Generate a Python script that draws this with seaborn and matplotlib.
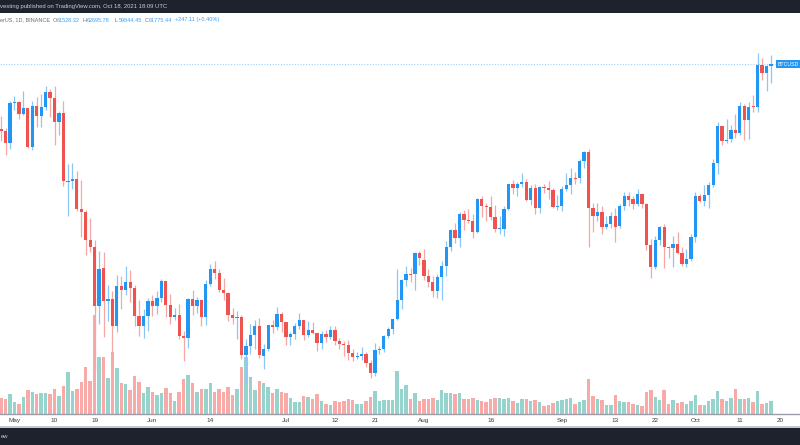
import numpy as np
import pandas as pd
import matplotlib
matplotlib.use("Agg")
import matplotlib.pyplot as plt
import seaborn as sns
from matplotlib.patches import Rectangle

# ---------------- data (BTCUSDT daily, Binance) ----------------
start_date = "2021-04-28"
opens = [55033, 54824, 53555, 57697, 57797, 56578, 57169, 53205, 57436, 56393,
         57315, 58866, 58240, 55816, 56670, 49537, 49671, 49845, 46716, 46427,
         43538, 42849, 36706, 40597, 37250, 37449, 34655, 38796, 38325, 39241,
         38529, 35661, 34606, 35642, 37254, 36694, 37568, 39246, 36829, 35517,
         35796, 33556, 33381, 37389, 36677, 37331, 35546, 39020, 40516, 40143,
         38349, 38092, 35820, 35483, 35601, 31614, 32509, 33675, 34663, 31576,
         32283, 34702, 34494, 35911, 35045, 33502, 33786, 34668, 35284, 33690,
         34221, 33863, 32875, 33815, 33502, 34259, 33086, 32729, 32650, 31874,
         31383, 31521, 31778, 30839, 29790, 32144, 32287, 33583, 34293, 35351,
         37338, 39406, 39995, 39980, 42235, 41461, 39850, 39147, 38207, 39723,
         40862, 42836, 44572, 43794, 46248, 45585, 45511, 44400, 47800, 47068,
         46973, 45902, 44696, 44705, 46760, 49339, 48905, 49321, 49546, 47706,
         48960, 46843, 49070, 48895, 48768, 46991, 47100, 48810, 49246, 49999,
         49918, 51756, 52666, 46868, 46048, 46395, 44842, 45173, 46026, 44950,
         47103, 48121, 47738, 47299, 48292, 47242, 43016, 40729, 43546, 44866,
         42810, 42671, 43160, 42147, 41025, 41524, 43821, 48142, 47632, 48200,
         49224, 51471, 55316, 53786, 53956, 54950, 54659, 57471, 56006, 57370,
         57347, 61672, 60876, 61528]
highs = [56428, 55195, 57963, 58458, 57911, 58973, 57200, 57911, 58360, 58650,
         59464, 59210, 59500, 56862, 57939, 51367, 51483, 50700, 49720, 46643,
         45800, 43546, 42451, 42250, 38829, 38270, 39920, 39791, 40841, 40411,
         38877, 37338, 36400, 37499, 37894, 38225, 39476, 39289, 37925, 36480,
         36900, 34068, 37534, 38400, 37680, 37463, 39380, 41064, 41330, 40527,
         39560, 38202, 36457, 36137, 35750, 33298, 34881, 35298, 35500, 32730,
         34749, 35297, 36600, 36100, 35057, 33977, 34945, 35967, 35284, 35118,
         35059, 33929, 34100, 34262, 34666, 34679, 33340, 33114, 33185, 32249,
         31955, 32435, 31899, 31063, 32858, 32591, 33650, 34500, 35398, 40550,
         39542, 40900, 40640, 42316, 42448, 42599, 40499, 39780, 39969, 41350,
         43392, 44700, 45310, 46454, 46700, 46743, 46218, 47886, 48144, 47372,
         48053, 47160, 46000, 47033, 49382, 49757, 49500, 50500, 49875, 49266,
         49355, 49149, 49309, 49632, 48888, 48246, 49156, 50450, 51000, 50558,
         51900, 52780, 52920, 47340, 47399, 47033, 45987, 46460, 46876, 47250,
         48500, 48557, 48150, 48843, 48372, 47347, 43639, 44000, 44978, 45200,
         42966, 43950, 44350, 42787, 42590, 44141, 48495, 48336, 49228, 49536,
         51886, 55750, 55333, 56100, 55489, 56561, 57839, 57680, 57804, 58532,
         62933, 62350, 61700, 62696]
lows = [53813, 52330, 53013, 57052, 56035, 56478, 53057, 52900, 55200, 55241,
        56975, 56282, 53400, 54370, 49150, 46000, 48800, 46555, 43825, 42001,
        42250, 30000, 34850, 33488, 35200, 31111, 34031, 36419, 37800, 37134,
        34684, 33632, 33379, 34153, 35666, 35920, 37170, 35555, 34800, 35258,
        33300, 31000, 32396, 35783, 35936, 34600, 34757, 38730, 39506, 38116,
        37365, 35129, 34803, 33336, 31251, 28805, 31684, 32286, 31275, 30151,
        32000, 33862, 34225, 34017, 32711, 32699, 33316, 34357, 33213, 33532,
        33777, 32077, 32261, 33004, 33307, 32658, 32202, 31550, 31133, 31020,
        31164, 31109, 30408, 29278, 29482, 31708, 31924, 33402, 33851, 35205,
        36383, 38772, 39200, 38313, 41000, 39422, 38690, 37642, 37508, 37332,
        39853, 42446, 43261, 42779, 44589, 45341, 43770, 44217, 45971, 45500,
        45660, 44376, 44203, 43927, 46622, 48273, 48085, 49030, 47600, 47136,
        46250, 46360, 48370, 47762, 46853, 46700, 46513, 48584, 48316, 49370,
        49450, 50969, 42843, 44412, 45513, 44132, 44722, 44742, 43370, 44750,
        46700, 47021, 46750, 47033, 46850, 42500, 39600, 40565, 43069, 40675,
        41646, 40750, 42098, 40888, 40753, 41410, 43283, 47430, 47088, 46891,
        49022, 50382, 53357, 53617, 53661, 54080, 54416, 53879, 54000, 56818,
        56850, 60150, 58963, 59844]
closes = [54824, 53555, 57694, 57800, 56578, 57169, 53200, 57436, 56393, 57314,
          58862, 58240, 55816, 56670, 49631, 49670, 49841, 46762, 46431, 43538,
          42849, 36690, 40526, 37252, 37449, 34655, 38796, 38324, 39241, 38529,
          35663, 34605, 35641, 37253, 36693, 37568, 39246, 36829, 35513, 35796,
          33552, 33380, 37388, 36675, 37331, 35546, 39020, 40516, 40144, 38349,
          38092, 35819, 35483, 35600, 31608, 32509, 33678, 34663, 31584, 32283,
          34700, 34494, 35911, 35045, 33504, 33786, 34669, 35287, 33690, 34220,
          33863, 32875, 33815, 33502, 34259, 33086, 32729, 32650, 31880, 31383,
          31520, 31778, 30839, 29790, 32144, 32288, 33582, 34292, 35350, 37337,
          39406, 39995, 39980, 42235, 41626, 39845, 39147, 38207, 39723, 40862,
          42836, 44572, 43794, 46253, 45584, 45511, 44399, 47800, 47068, 46973,
          45901, 44695, 44705, 46760, 49339, 48905, 49321, 49546, 47706, 48960,
          46843, 49069, 48895, 48767, 46991, 47100, 48811, 49246, 49999, 49915,
          51756, 52663, 46863, 46048, 46395, 44850, 45173, 46026, 44940, 47111,
          48121, 47737, 47299, 48293, 47241, 43015, 40734, 43543, 44865, 42810,
          42670, 43160, 42147, 41026, 41524, 43824, 48141, 47634, 48200, 49224,
          51471, 55315, 53785, 53951, 54949, 54659, 57471, 56005, 57367, 57347,
          61672, 60875, 61528, 61775]
# volume (relative units)
volume = [15.7, 15, 19.7, 12.3, 10, 16.7, 24, 22, 20, 21.3,
          20.7, 20, 25.3, 18, 28, 42, 22.7, 25.3, 32.3, 47.3,
          33, 99, 57.3, 57.3, 35.7, 61.7, 45.7, 31.3, 29.7, 24,
          38, 32, 21.3, 27.3, 22.3, 19, 21.3, 25.7, 21.3, 13.3,
          22.3, 34.7, 39, 30.7, 22.3, 24.7, 24.7, 30.7, 22.3, 24.7,
          22.3, 26.7, 19, 25, 47.3, 57.3, 36.7, 24, 33, 30.7,
          27.3, 21.3, 25, 21.7, 20.7, 15.7, 12, 12, 18, 16.7,
          15, 20, 13, 10, 8.7, 13.3, 11.7, 13.3, 14.7, 14,
          10, 10, 13.3, 17.3, 23.3, 13, 14, 13.7, 13.7, 43.3,
          25, 29, 14.7, 20.7, 12.7, 15, 14.7, 16, 14.3, 24,
          21.3, 21, 19.7, 21, 15, 15, 15.7, 13.7, 13, 12,
          15, 16, 15.7, 15, 16, 13, 10.7, 14.7, 14.7, 12.7,
          14, 12, 8, 9, 11.3, 13.3, 13.7, 15, 16.3, 10,
          11.7, 14, 35, 18.3, 14.7, 14, 8.7, 9, 18.7, 12.7,
          12.3, 11.7, 9.7, 8.7, 8.3, 22, 24, 16.7, 13.7, 24,
          9.7, 14, 11.3, 12, 9.7, 13, 19, 8.7, 8.7, 13,
          14.7, 23, 15.3, 13.3, 15.7, 25, 15, 15, 16, 12,
          23.3, 10.3, 11.3, 12.7]
tick_dates = ["2021-05-01", "2021-05-10", "2021-05-19", "2021-06-01", "2021-06-14",
              "2021-07-01", "2021-07-12", "2021-07-21", "2021-08-01", "2021-08-16",
              "2021-09-01", "2021-09-13", "2021-09-22", "2021-10-01", "2021-10-11",
              "2021-10-20"]
tick_labels = ["May", "10", "19", "Jun", "14", "Jul", "12", "21", "Aug", "16",
               "Sep", "13", "22", "Oct", "11", "20"]
last_close = 61775.44
header_top = "vesting published on TradingView.com, Oct 18, 2021 18:09 UTC"
header_sym = "erUS, 1D, BINANCE"
ohlc_text = [("O", "61528.32"), ("H", "62695.78"), ("L", "59844.45"), ("C", "61775.44")]
change_text = "+247.11 (+0.40%)"

# ---------------- style ----------------
UP, DN = "#2196F3", "#EF5350"
WICK_UP, WICK_DN = "#8CC6F7", "#F6A6A4"
VOL_UP, VOL_DN = "#97D3CD", "#F8AAA8"
DARK = "#1E222D"

sns.set_theme(style="white")
plt.rcParams["font.family"] = ["Liberation Sans", "DejaVu Sans"]

W, H = 800, 445
fig = plt.figure(figsize=(8, 4.45), dpi=100)
fig.patch.set_facecolor("white")


def fx(px):
    return px / W


def fy(px):
    return 1 - px / H


plot_top, plot_bot = 12.7, 414.0
rect = [0, fy(plot_bot), 1, fy(plot_top) - fy(plot_bot)]
ax_vol = fig.add_axes(rect)
ax = fig.add_axes(rect)
ax.patch.set_visible(False)

o = np.array(opens, float)
h = np.array(highs, float)
l = np.array(lows, float)
c = np.array(closes, float)
dates = pd.date_range(start_date, periods=len(c), freq="D")
origin = pd.Timestamp("2021-05-01")
dnum = np.asarray((dates - origin).days, dtype=float)
up = c >= o

# pixel mapping: x_px = 14.5 + 4.45*d
x0, px_per_day = 14.5, 4.45
xmin = (0 - x0) / px_per_day
xmax = (W - x0) / px_per_day

# volume bars via seaborn
df = pd.DataFrame({"day": dnum, "volume": volume,
                   "dir": np.where(up, "up", "down")})
sns.barplot(data=df, x="day", y="volume", hue="dir",
            palette={"up": VOL_UP, "down": VOL_DN}, native_scale=True,
            dodge=False, width=0.78, saturation=1, errorbar=None,
            legend=False, linewidth=0, ax=ax_vol)
ax_vol.set_xlim(xmin, xmax)
ax_vol.set_ylim(0, plot_bot - plot_top)
ax_vol.axis("off")

# candles
ax.vlines(dnum, l, h, colors=np.where(up, WICK_UP, WICK_DN), lw=0.9, zorder=2)
body_h = np.abs(c - o)
min_h = 110.0
bottom = np.where(body_h < min_h, (o + c) / 2 - min_h / 2, np.minimum(o, c))
body_h = np.maximum(body_h, min_h)
ax.bar(dnum, body_h, bottom=bottom, width=0.72,
       color=np.where(up, UP, DN), linewidth=0, zorder=3)

# price scale: 61775 at y=64px, 103.6 $/px
scale = 103.6
p_top = last_close + (64 - plot_top) * scale
p_bot = last_close - (plot_bot - 64) * scale
ax.set_xlim(xmin, xmax)
ax.set_ylim(p_bot, p_top)
ax.axhline(last_close, color=UP, alpha=0.45, lw=0.8, ls=(0, (1, 1.5)), zorder=1)

for s in ["top", "left", "right"]:
    ax.spines[s].set_visible(False)
ax.spines["bottom"].set_color("#9a9da6")
ax.spines["bottom"].set_linewidth(1.0)
ax.set_yticks([])
tick_pos = np.asarray((pd.to_datetime(tick_dates) - origin).days, dtype=float)
ax.set_xticks(tick_pos, tick_labels)
ax.tick_params(axis="x", length=0, labelsize=4.6, pad=2.6, colors="#3a3d45")
ax.set_xlabel("")
ax.set_ylabel("")

# top dark bar + header text
fig.add_artist(Rectangle((0, fy(plot_top)), 1, plot_top / H,
                         transform=fig.transFigure, color=DARK, lw=0))
fig.text(fx(0.5), fy(6.5), header_top, color="#c9ccd4", fontsize=4.2,
         ha="left", va="center")

# legend line
fig.text(fx(0.5), fy(20), header_sym, color="#6a6d78", fontsize=4.0,
         ha="left", va="center")
xs = [52.5, 82.5, 114.5, 144.5]
for (lab, val), xp in zip(ohlc_text, xs):
    fig.text(fx(xp), fy(20), lab, color="#6a6d78", fontsize=4.0,
             ha="left", va="center")
    fig.text(fx(xp + 4.6), fy(20), val, color="#3f9ef0", fontsize=4.0,
             ha="left", va="center")
fig.text(fx(175), fy(20), change_text, color="#3f9ef0", fontsize=4.0,
         ha="left", va="center")

# price tag at the right
fig.add_artist(Rectangle((fx(775.7), fy(68.0)), 1 - fx(775.7), 8.0 / H,
                         transform=fig.transFigure, color=UP, lw=0))
fig.text(fx(778), fy(64.2), "BTCUSD", color="white", fontsize=3.8,
         ha="left", va="center")

# bottom separator + dark bar
fig.add_artist(Rectangle((0, fy(427.5)), 1, 1.7 / H,
                         transform=fig.transFigure, color="#c6c8ce", lw=0))
fig.add_artist(Rectangle((0, 0), 1, (H - 427.5) / H,
                         transform=fig.transFigure, color=DARK, lw=0))
fig.text(fx(0.5), fy(436.5), "ew", color="#c9ccd4", fontsize=4.2,
         ha="left", va="center")

fig.savefig("out.png", dpi=100)
